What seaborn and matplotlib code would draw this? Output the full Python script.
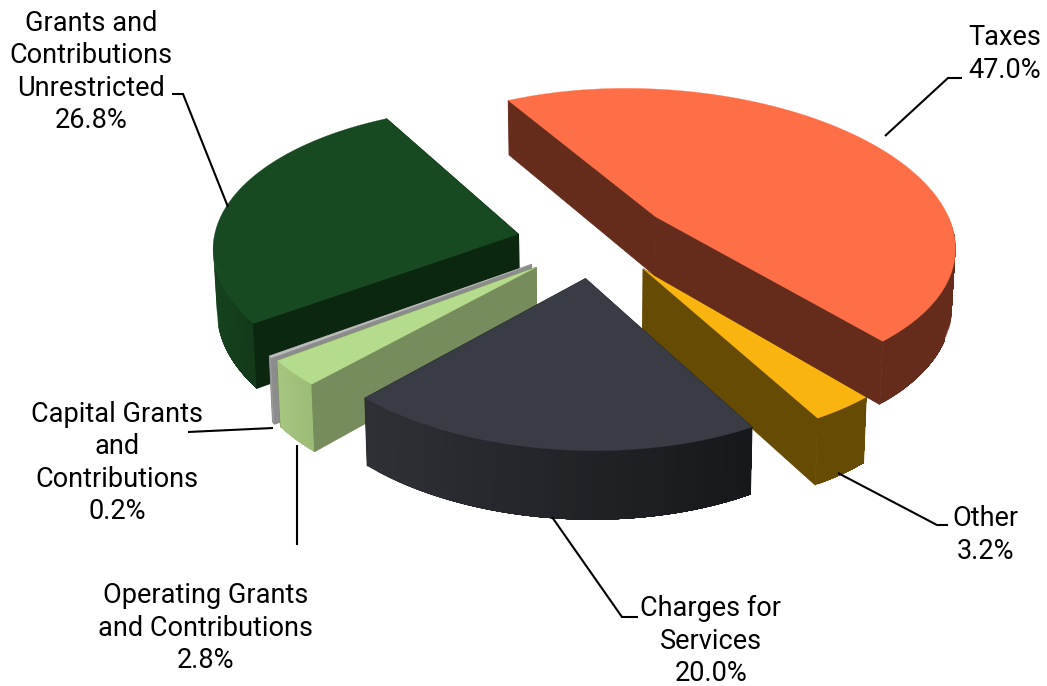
import numpy as np
import matplotlib
matplotlib.use("Agg")
import matplotlib.pyplot as plt
import seaborn as sns

# Revenue shares, in the clockwise order the slices are laid out
categories = ["Taxes", "Other", "Charges for\nServices", "Operating Grants\nand Contributions",
              "Capital Grants\nand\nContributions", "Grants and\nContributions\nUnrestricted"]
shares = [47.0, 3.2, 20.0, 2.8, 0.2, 26.8]

top_colors = ["#FF6F47", "#F9B410", "#393C45", "#B5DB8D", "#BDBDBD", "#184A22"]
rim_left = ["#652C1C", "#664B05", "#2E3036", "#A6C680", "#9A9A9A", "#15421E"]
rim_right = ["#652C1C", "#664B05", "#16181B", "#9CBB76", "#9A9A9A", "#133A1B"]
cut_colors = ["#652C1C", "#664B05", "#23252A", "#768C5C", "#8C8C8C", "#0B2710"]

# Per-slice pull-out distance, radius and fine placement in pixels
explode = [0.27, 0.26, 0.25, 0.25, 0.25, 0.25]
radius = [1.03, 0.97, 0.955, 0.955, 0.96, 0.99]
nudge = [(0, -5), (4, -7), (1, -2), (0, 0), (0, 0), (0, 0)]

# Pie geometry: oblique axes with a mild perspective
START_DEG = 127.5
CENTER = np.array([592.0, 243.0])
AXIS_X = np.array([333.0, 27.5])
AXIS_Y = np.array([37.0, -162.0])
DEPTH = 67.0
PERSPECTIVE = 0.147


def project(x, y, lower=False):
    w = 1 + PERSPECTIVE * (y + 0.8)
    off = (AXIS_X * x + AXIS_Y * y) / w
    if lower:
        off = off * 0.99 + np.array([0.0, DEPTH / w])
    return CENTER + off


def unit(deg):
    return np.array([np.cos(np.radians(deg)), np.sin(np.radians(deg))])


def faces_viewer(deg):
    cos_part, sin_part = unit(deg)
    return cos_part * AXIS_X[1] + sin_part * AXIS_Y[1] > 0


def draw_cut(ax, apex, rim, color, shift):
    quad = np.array([project(*apex), project(*rim),
                     project(*rim, lower=True), project(*apex, lower=True)]) + shift
    ax.fill(quad[:, 0], quad[:, 1], color=color, lw=0.7)


def draw_slice(ax, idx, deg_start, deg_end):
    mid = (deg_start + deg_end) / 2
    apex = explode[idx] * unit(mid)
    size = radius[idx]
    shift = np.array(nudge[idx], dtype=float)
    degs = np.linspace(deg_start, deg_end, max(int(abs(deg_end - deg_start)) * 2, 4))

    # Walls behind the top face go first so the rim can cover them
    cuts = [(deg_start, deg_start + 90), (deg_end, deg_end - 90)]
    for deg, normal in cuts:
        if not faces_viewer(normal):
            draw_cut(ax, apex, apex + size * unit(deg), cut_colors[idx], shift)

    # Only the part of the rim turned towards the viewer is drawn; each shade
    # runs on to the end of the rim so neighbouring strips leave no seam
    front = degs[faces_viewer(degs)]
    upper = np.array([project(*(apex + size * unit(d))) for d in degs]) + shift
    if len(front) > 1:
        rim_up = np.array([project(*(apex + size * unit(d))) for d in front]) + shift
        rim_lo = np.array([project(*(apex + size * unit(d)), lower=True) for d in front]) + shift
        left, right = rim_up[:, 0].min(), rim_up[:, 0].max()
        shades = sns.blend_palette([rim_left[idx], rim_right[idx]], 40)
        order = np.argsort(rim_up[:, 0])
        rim_up, rim_lo = rim_up[order], rim_lo[order]
        for step, shade in enumerate(shades):
            cutoff = left + (right - left) * step / 40
            keep = rim_up[:, 0] >= cutoff
            if keep.sum() < 2:
                continue
            outline = np.vstack([rim_up[keep], rim_lo[keep][::-1]])
            ax.fill(outline[:, 0], outline[:, 1], color=shade, lw=0)

    for deg, normal in cuts:
        if faces_viewer(normal):
            draw_cut(ax, apex, apex + size * unit(deg), cut_colors[idx], shift)

    top = np.vstack([project(*apex) + shift, upper])
    ax.fill(top[:, 0], top[:, 1], color=top_colors[idx], lw=0.2)


sns.set_theme(style="white")
plt.rcParams["font.family"] = ["Roboto", "DejaVu Sans"]

fig = plt.figure(figsize=(10.47, 6.86), dpi=100)
ax = fig.add_axes([0, 0, 1, 1])
ax.set_xlim(0, 1047)
ax.set_ylim(686, 0)
ax.axis("off")

bounds = START_DEG - np.cumsum([0] + shares) * 3.6
for idx in [5, 4, 3, 1, 0, 2]:
    draw_slice(ax, idx, bounds[idx], bounds[idx + 1])

# Leader lines from each slice to its label
leaders = [
    [(885, 136), (948, 78), (962, 78)],
    [(838, 473), (937, 525), (948, 525)],
    [(552, 517), (622, 617), (638, 617)],
    [(297, 445), (297, 545)],
    [(188, 432), (273, 428)],
    [(172, 94), (183, 94), (228, 207)],
]
for path in leaders:
    xs, ys = zip(*path)
    ax.plot(xs, ys, color="black", lw=1.5, solid_capstyle="butt", solid_joinstyle="miter")

label_anchor = [(1005, 54), (985, 535), (711, 641), (206, 628), (117, 463), (91, 72)]
for name, share, (x, y) in zip(categories, shares, label_anchor):
    ax.text(x, y, f"{name}\n{share:.1f}%", ha="center", va="center", fontsize=19.5,
            color="black", linespacing=1.26)

fig.savefig("out.png", dpi=100)
